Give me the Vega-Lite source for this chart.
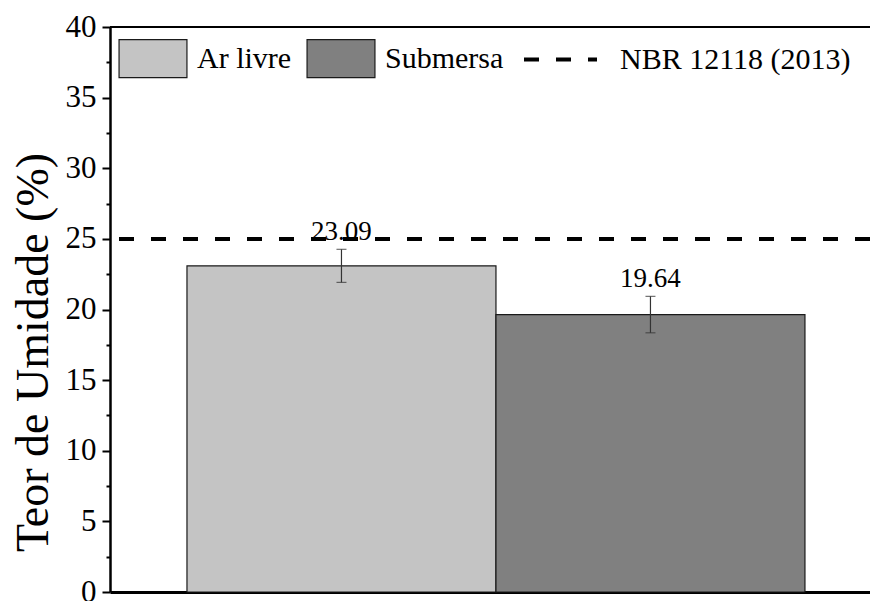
{
  "$schema": "https://vega.github.io/schema/vega-lite/v6.json",
  "width": 760,
  "height": 565,
  "autosize": {"type": "none"},
  "padding": {"left": 110, "top": 27, "right": 0, "bottom": 9},
  "background": "white",
  "config": {
    "view": {"stroke": null},
    "font": "Liberation Serif",
    "axis": {"grid": false}
  },
  "datasets": {
    "amostras": [
      {"grupo": "Ar livre", "teor": 23.09, "inferior": 21.92, "superior": 24.26},
      {"grupo": "Submersa", "teor": 19.64, "inferior": 18.35, "superior": 20.93}
    ],
    "norma": [
      {"norma": "NBR 12118 (2013)", "limite": 25}
    ],
    "borda": [
      {"topo": 40}
    ]
  },
  "resolve": {"axis": {"y": "independent"}},
  "layer": [
    {
      "data": {"name": "amostras"},
      "mark": {"type": "bar", "stroke": "#1a1a1a", "strokeWidth": 1.2},
      "encoding": {
        "x": {
          "field": "grupo", "type": "nominal", "sort": null,
          "scale": {"paddingInner": 0, "paddingOuter": 0.2298, "align": 0.542},
          "axis": {"domain": true, "domainColor": "black", "domainWidth": 3, "ticks": false, "labels": false, "title": null}
        },
        "y": {
          "field": "teor", "type": "quantitative",
          "scale": {"domain": [0, 40], "nice": false, "zero": true},
          "axis": {
            "orient": "left",
            "values": [0, 5, 10, 15, 20, 25, 30, 35, 40],
            "tickSize": 8, "tickWidth": 2, "tickColor": "black",
            "domainColor": "black", "domainWidth": 2.5,
            "labelFont": "Liberation Serif", "labelFontSize": 31, "labelColor": "black",
            "labelPadding": 6, "labelFlush": false, "labelOverlap": false,
            "title": "Teor de Umidade (%)",
            "titleFont": "Liberation Serif", "titleFontSize": 46, "titleFontWeight": "normal",
            "titleColor": "black", "titleX": -63, "titleY": 325, "titleAngle": 270,
            "titleAlign": "center", "titleBaseline": "alphabetic"
          }
        },
        "fill": {
          "field": "grupo", "type": "nominal",
          "scale": {"domain": ["Ar livre", "Submersa"], "range": ["#c4c4c4", "#808080"]},
          "legend": {
            "title": null,
            "orient": "none",
            "legendX": 5.5,
            "legendY": -6,
            "direction": "horizontal",
            "padding": 0,
            "columnPadding": 12,
            "labelFont": "Liberation Serif",
            "labelFontSize": 30,
            "labelColor": "black",
            "labelOffset": 6.5,
            "labelLimit": 400,
            "symbolType": "M-0.93,-0.52H0.93V0.52H-0.93Z",
            "symbolSize": 5329,
            "symbolStrokeColor": "#1a1a1a",
            "symbolStrokeWidth": 1.2,
            "symbolOpacity": 1
          }
        }
      }
    },
    {
      "data": {"name": "norma"},
      "mark": {"type": "rule", "strokeWidth": 4, "strokeDash": [15, 17]},
      "encoding": {
        "y": {"field": "limite", "type": "quantitative", "axis": null},
        "stroke": {
          "field": "norma", "type": "nominal",
          "scale": {"domain": ["NBR 12118 (2013)"], "range": ["#000000"]},
          "legend": {
            "title": null,
            "orient": "none",
            "legendX": 412,
            "legendY": -6,
            "direction": "horizontal",
            "padding": 0,
            "labelFont": "Liberation Serif",
            "labelFontSize": 30,
            "labelColor": "black",
            "labelOffset": 21,
            "labelLimit": 400,
            "symbolType": "M-1,0H1",
            "symbolSize": 5329,
            "symbolStrokeWidth": 4,
            "symbolDash": [15, 17],
            "symbolOpacity": 1
          }
        }
      }
    },
    {
      "data": {"name": "amostras"},
      "mark": {"type": "rule", "color": "#333333", "strokeWidth": 1.2},
      "encoding": {
        "x": {"field": "grupo", "type": "nominal", "sort": null},
        "y": {"field": "inferior", "type": "quantitative", "axis": null},
        "y2": {"field": "superior"}
      }
    },
    {
      "data": {"name": "amostras"},
      "mark": {"type": "tick", "color": "#333333", "size": 10, "thickness": 1.2, "orient": "horizontal"},
      "encoding": {
        "x": {"field": "grupo", "type": "nominal", "sort": null},
        "y": {"field": "inferior", "type": "quantitative", "axis": null}
      }
    },
    {
      "data": {"name": "amostras"},
      "mark": {"type": "tick", "color": "#333333", "size": 10, "thickness": 1.2, "orient": "horizontal"},
      "encoding": {
        "x": {"field": "grupo", "type": "nominal", "sort": null},
        "y": {"field": "superior", "type": "quantitative", "axis": null}
      }
    },
    {
      "data": {"name": "amostras"},
      "mark": {"type": "text", "font": "Liberation Serif", "fontSize": 27, "color": "black", "baseline": "alphabetic", "dy": -9},
      "encoding": {
        "x": {"field": "grupo", "type": "nominal", "sort": null},
        "y": {"field": "superior", "type": "quantitative", "axis": null},
        "text": {"field": "teor", "type": "quantitative", "format": ".2f"}
      }
    },
    {
      "data": {"name": "borda"},
      "mark": {"type": "rule", "color": "black", "strokeWidth": 2},
      "encoding": {
        "y": {
          "field": "topo", "type": "quantitative",
          "axis": {
            "orient": "left",
            "values": [2.5, 7.5, 12.5, 17.5, 22.5, 27.5, 32.5, 37.5],
            "tickSize": 4, "tickWidth": 2, "tickColor": "black",
            "labels": false, "domain": false, "title": null, "grid": false
          }
        }
      }
    }
  ]
}
